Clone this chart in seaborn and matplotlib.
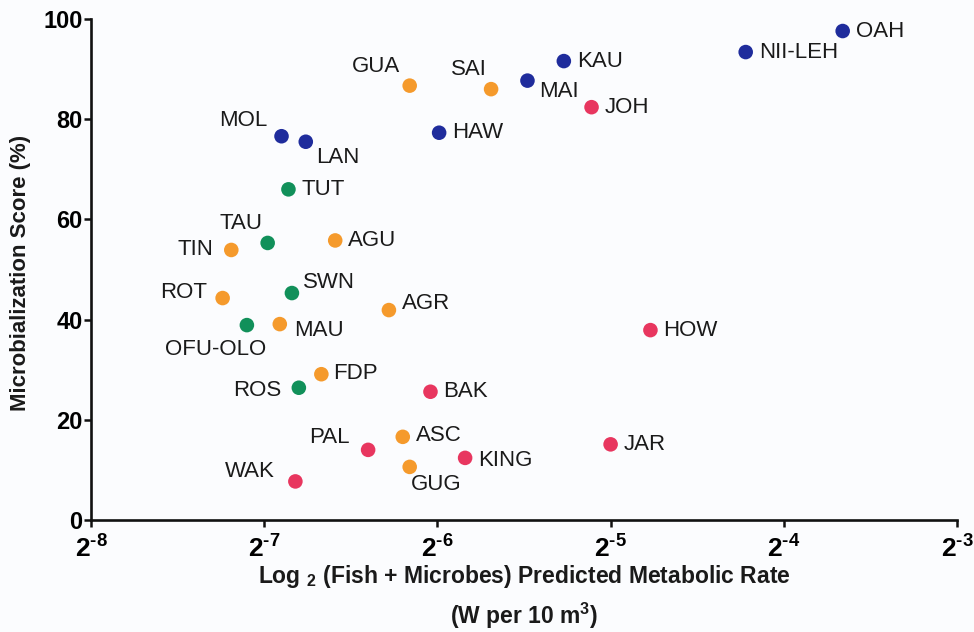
import pandas as pd
import numpy as np
import matplotlib
matplotlib.use("Agg")
import matplotlib.pyplot as plt
import seaborn as sns

# sites, log2 of predicted metabolic rate, microbialization score, region group
sites = ["OAH", "NII-LEH", "KAU", "MAI", "HAW", "MOL", "LAN",
         "GUA", "SAI", "TIN", "AGU", "ROT", "AGR", "MAU", "FDP", "ASC", "GUG",
         "TUT", "TAU", "SWN", "OFU-OLO", "ROS",
         "JOH", "HOW", "BAK", "JAR", "KING", "PAL", "WAK"]
log2_rate = [-3.66, -4.22, -5.27, -5.48, -5.99, -6.90, -6.76,
             -6.16, -5.69, -7.19, -6.59, -7.24, -6.28, -6.91, -6.67, -6.20, -6.16,
             -6.86, -6.98, -6.84, -7.10, -6.80,
             -5.11, -4.77, -6.04, -5.00, -5.84, -6.40, -6.82]
score = [97.6, 93.4, 91.6, 87.7, 77.3, 76.6, 75.5,
         86.7, 86.0, 53.9, 55.8, 44.3, 41.9, 39.1, 29.1, 16.6, 10.6,
         66.0, 55.3, 45.3, 38.9, 26.4,
         82.4, 37.9, 25.6, 15.1, 12.4, 14.0, 7.7]
region = (["Main Hawaiian Is."] * 7 + ["Mariana Is."] * 10 +
          ["American Samoa"] * 5 + ["Pacific Remote Is."] * 7)

palette = {"Main Hawaiian Is.": "#1f2c9c", "Mariana Is.": "#f59a2c",
           "American Samoa": "#11905a", "Pacific Remote Is.": "#e8365f"}

# label placement: (dx, dy) in pixels, horizontal alignment
label_pos = {
    "OAH": (13, 0, "left"), "NII-LEH": (13, 0, "left"), "KAU": (13, 0, "left"),
    "MAI": (12, -11, "left"), "HAW": (13, 0, "left"), "MOL": (-14, 16, "right"),
    "LAN": (10, -16, "left"), "GUA": (-10, 19, "right"), "SAI": (-4, 20, "right"),
    "TIN": (-18, 0, "right"), "AGU": (13, 0, "left"), "ROT": (-16, 6, "right"),
    "AGR": (13, 7, "left"), "MAU": (14, -6, "left"), "FDP": (12, 1, "left"),
    "ASC": (13, 1, "left"), "GUG": (1, -18, "left"), "TUT": (13, 0, "left"),
    "TAU": (-5, 19, "right"), "SWN": (11, 11, "left"), "OFU-OLO": (19, -24, "right"),
    "ROS": (-17, -3, "right"), "JOH": (13, 0, "left"), "HOW": (13, 0, "left"),
    "BAK": (13, 0, "left"), "JAR": (13, 0, "left"), "KING": (13, -3, "left"),
    "PAL": (-18, 12, "right"), "WAK": (-21, 10, "right"),
}

df = pd.DataFrame({"site": sites, "rate": 2.0 ** np.array(log2_rate),
                   "score": score, "region": region})

plt.rcParams["font.family"] = ["Liberation Sans", "DejaVu Sans"]
plt.rcParams["mathtext.fontset"] = "custom"
plt.rcParams["mathtext.rm"] = "Liberation Sans"
plt.rcParams["mathtext.bf"] = "Liberation Sans:bold"
plt.rcParams["mathtext.it"] = "Liberation Sans:italic"

bg = "#fbfcfe"
fig = plt.figure(figsize=(9.74, 6.32), dpi=100, facecolor=bg)
ax = fig.add_axes([91 / 974, 1 - 520 / 632, 866 / 974, 501 / 632], facecolor=bg)

sns.scatterplot(data=df, x="rate", y="score", hue="region", palette=palette,
                s=110, linewidth=0, legend=False, ax=ax, zorder=3)

for _, r in df.iterrows():
    dx, dy, ha = label_pos[r["site"]]
    ax.annotate(r["site"], (r["rate"], r["score"]), xytext=(dx, dy),
                textcoords="offset pixels", ha=ha, va="center",
                fontsize=16, color="#1a1a1a")

ax.set_xscale("log", base=2)
ax.set_xlim(2.0 ** -8, 2.0 ** -3)
ax.set_ylim(0, 100)
ax.set_xticks([2.0 ** e for e in range(-8, -2)])
ax.set_xticklabels(["$\\mathbf{2^{\u2010%d}}$" % (-e) for e in range(-8, -2)])
ax.minorticks_off()
ax.set_yticks([0, 20, 40, 60, 80, 100])
ax.set_yticklabels(["0", "20", "40", "60", "80", "100"])

for side in ["top", "right"]:
    ax.spines[side].set_visible(False)
for side in ["left", "bottom"]:
    ax.spines[side].set_linewidth(1.9)
    ax.spines[side].set_color("#111111")
ax.tick_params(axis="both", direction="out", length=5, width=1.8, color="#111111",
               labelsize=17, pad=1)
for lab in ax.get_yticklabels():
    lab.set_fontweight("bold")
ax.tick_params(axis="x", labelsize=19, pad=6)

ax.set_xlabel("")
ax.set_ylabel("")
fig.text(524 / 974, 1 - 577 / 632,
         r"Log $_{\mathbf{2}}$ (Fish + Microbes) Predicted Metabolic Rate",
         ha="center", va="center", fontsize=16.5, fontweight="bold", color="#1a1a1a")
fig.text(524 / 974, 1 - 616 / 632, r"(W per 10 m$^{\mathbf{3}}$)",
         ha="center", va="center", fontsize=16.5, fontweight="bold", color="#1a1a1a")
fig.text(21 / 974, 1 - 273 / 632, "Microbialization Score (%)", rotation=90,
         ha="center", va="center", fontsize=16, fontweight="bold", color="#1a1a1a")

fig.savefig("out.png", dpi=100, facecolor=bg)
